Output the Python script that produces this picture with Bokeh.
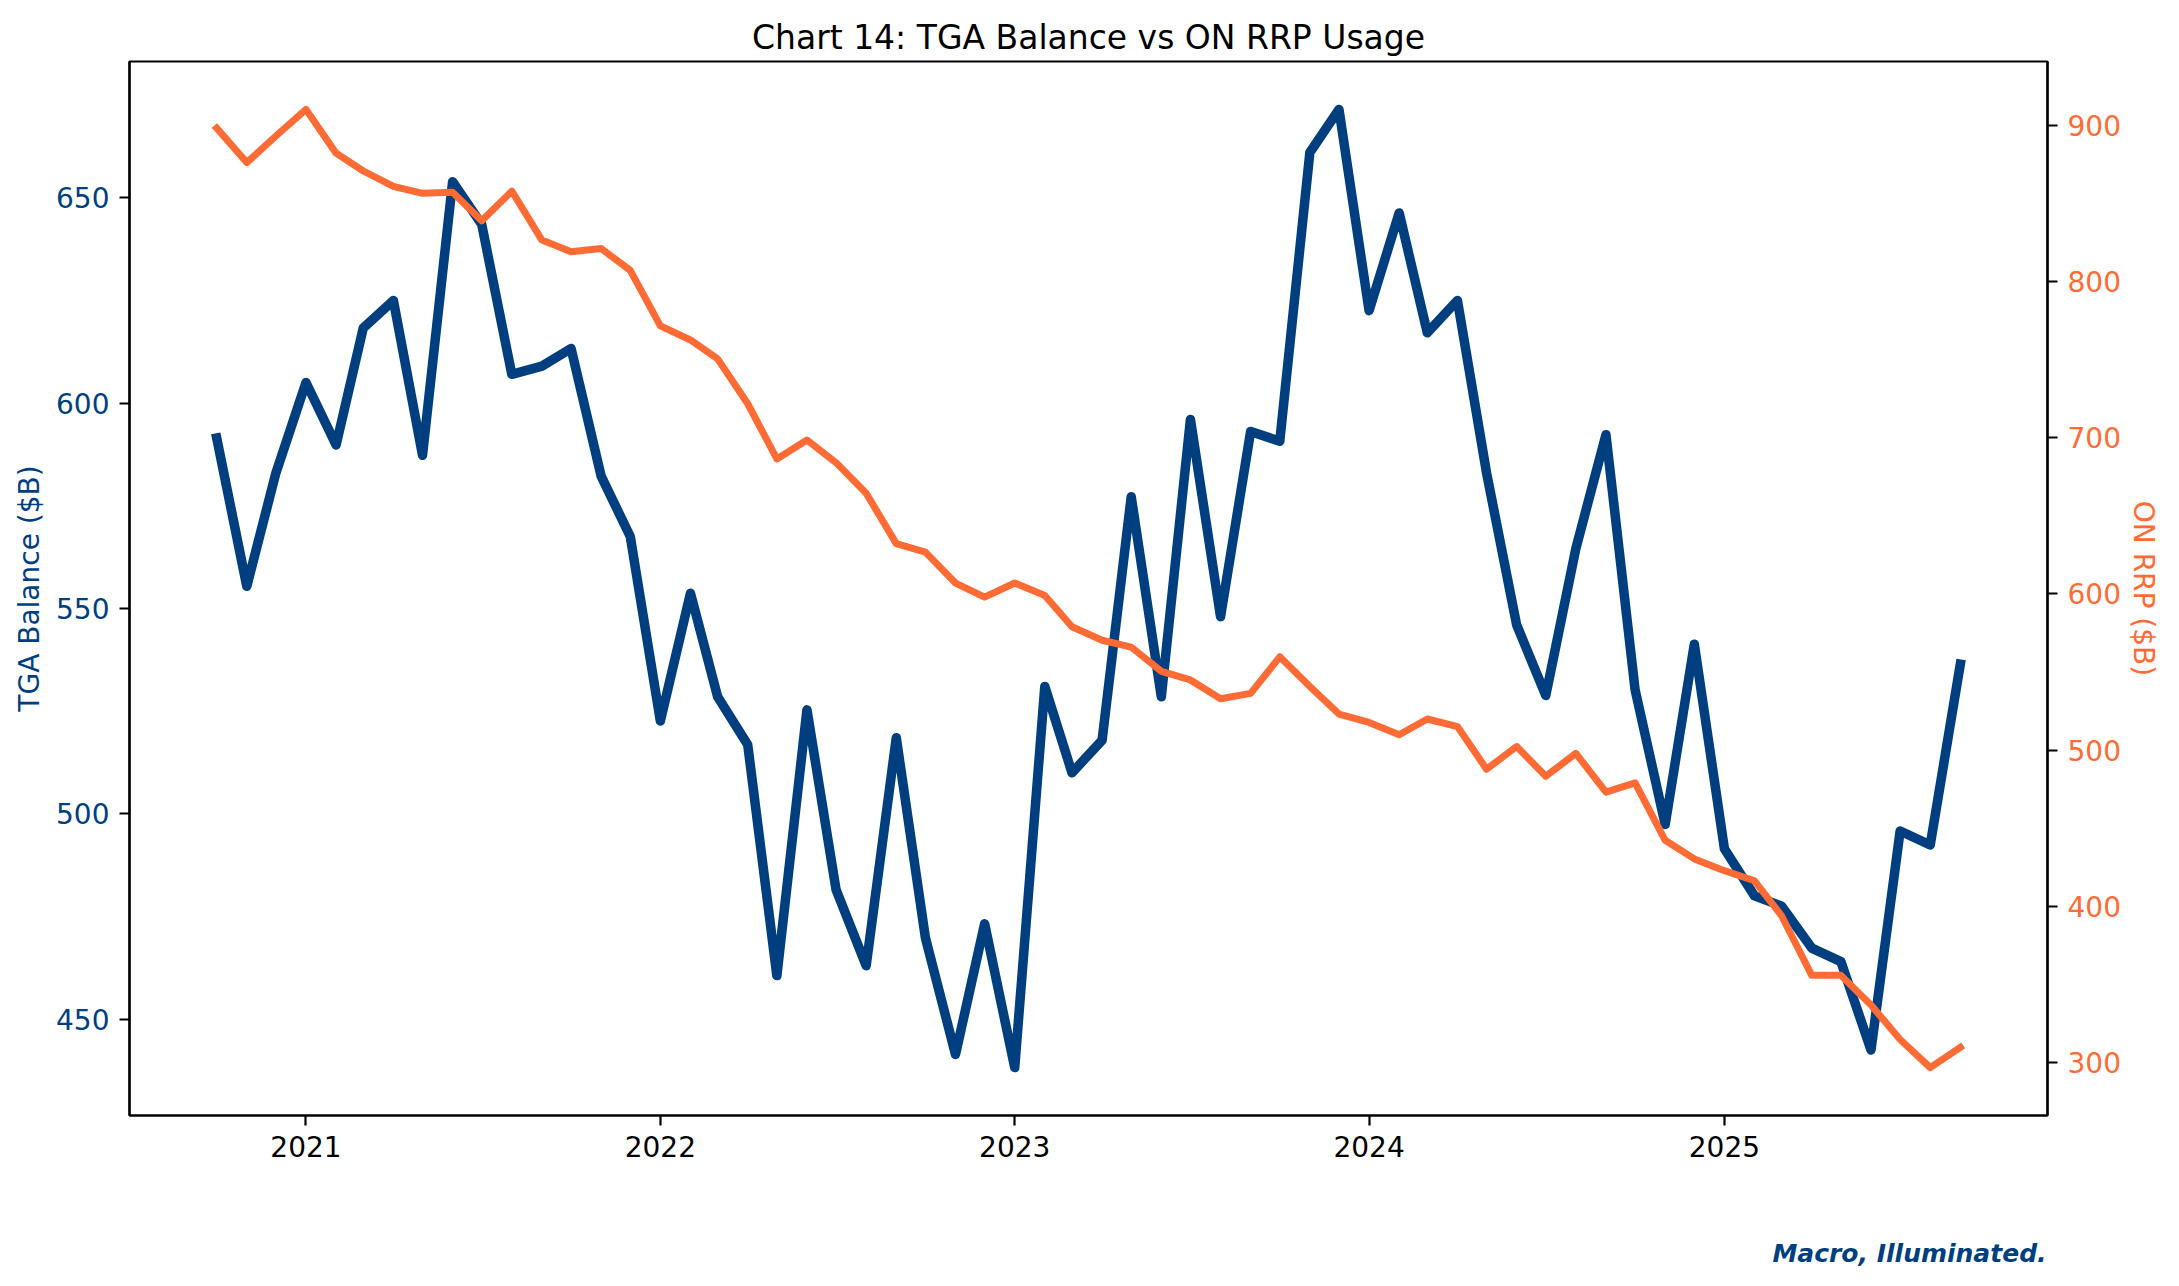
import pandas as pd
from bokeh.plotting import figure
from bokeh.layouts import column
from bokeh.models import Range1d, LinearAxis, FixedTicker, DatetimeTickFormatter, Label
from bokeh.embed import file_html
from bokeh.resources import INLINE

# ---- data ----
months = pd.date_range("2020-10-01", "2025-09-01", freq="MS")
tga_balance = [591.5, 555.4, 583, 605, 589.8, 618.3, 625, 587.3, 653.9, 643.5,
               607, 609, 613.3, 582.2, 567.5, 522.6, 553.7, 528.5, 516.8, 460.6,
               525.3, 481.5, 463, 518.5, 469.8, 441.4, 473.2, 438.2, 531, 510,
               517.9, 577.2, 528.5, 596, 548, 593.1, 590.7, 661, 671.5, 622.5,
               646.3, 617.1, 625, 583, 546, 528.8, 564.6, 592.3, 530.2, 497.4,
               541.3, 491.5, 480, 477.5, 467.3, 464, 442.5, 495.8, 492.4, 536.4]
on_rrp = [898, 876, 893, 910, 882, 870.6, 860.8, 856.3, 857, 838.7,
          857.7, 826.4, 818.9, 821, 807, 771.5, 762.5, 750.4, 721.7, 686.4,
          698.5, 684, 664.4, 632.2, 626.8, 607, 598, 607, 599, 579,
          570.4, 566, 550.5, 545, 533, 536.4, 559.8, 540.8, 523.2, 517.8,
          509.9, 520, 515.2, 487.9, 502.4, 483.4, 498, 473.2, 479.2, 442.4,
          430.5, 423, 416.5, 394, 356, 356, 337, 315, 297, 310]
x_tick_dates = ["2021-01-01", "2022-01-01", "2023-01-01", "2024-01-01", "2025-01-01"]
tga_ticks = [450, 500, 550, 600, 650]
rrp_ticks = [300, 400, 500, 600, 700, 800, 900]

BLUE = "#003f7f"
ORANGE = "#ff6b35"
FONT = "DejaVu Sans"

def padded(lo, hi, frac=0.05):
    d = (hi - lo) * frac
    return lo - d, hi + d

x0, x1 = months[0], months[-1]
dx = (x1 - x0) * 0.05
y0, y1 = padded(min(tga_balance), max(tga_balance))
r0, r1 = padded(min(on_rrp), max(on_rrp))

W = 2162
BL, BR, BT, BB = 129, 114, 61, 85
FRAME_H = 1054
H = BT + FRAME_H + BB
FOOT_H = 70

p = figure(width=W, height=H, x_axis_type="datetime",
           output_backend="svg", toolbar_location=None,
           x_range=Range1d(x0 - dx, x1 + dx), y_range=Range1d(y0, y1),
           min_border_left=BL, min_border_right=BR,
           min_border_top=BT, min_border_bottom=BB)
p.extra_y_ranges = {"rrp": Range1d(r0, r1)}

p.title.text = "Chart 14: TGA Balance vs ON RRP Usage"
p.title.align = "center"
p.title.text_font = FONT
p.title.text_font_size = "33px"
p.title.text_font_style = "normal"
p.title.text_color = "black"

p.outline_line_color = "black"
p.outline_line_width = 2.2
p.outline_line_alpha = 1.0
p.xgrid.visible = False
p.ygrid.visible = False
p.background_fill_color = "white"
p.border_fill_color = "white"

p.line(months, tga_balance, line_color=BLUE, line_width=9.5,
       line_join="round", line_cap="square")
p.line(months, on_rrp, line_color=ORANGE, line_width=7, y_range_name="rrp",
       line_join="round", line_cap="square")

rax = LinearAxis(y_range_name="rrp")
p.add_layout(rax, "right")

x_ticks_ms = [pd.Timestamp(d).value // 10**6 for d in x_tick_dates]
p.xaxis.ticker = FixedTicker(ticks=x_ticks_ms)
p.xaxis.formatter = DatetimeTickFormatter(years="%Y", months="%Y", days="%Y",
                                          hours="%Y", minutes="%Y")
p.yaxis[0].ticker = FixedTicker(ticks=tga_ticks)
rax.ticker = FixedTicker(ticks=rrp_ticks)

for ax in [p.xaxis[0], p.yaxis[0], rax]:
    ax.axis_line_color = "black"
    ax.axis_line_width = 2.2
    ax.major_tick_line_color = "black"
    ax.major_tick_line_width = 2.2
    ax.major_tick_out = 10
    ax.major_tick_in = 0
    ax.minor_tick_line_color = None
    ax.major_label_text_font = FONT
    ax.major_label_text_font_size = "28px"
    ax.major_label_standoff = 10
    ax.axis_label_text_font = FONT
    ax.axis_label_text_font_size = "28px"
    ax.axis_label_text_font_style = "normal"

p.xaxis.major_label_text_color = "black"
p.yaxis[0].axis_label = "TGA Balance ($B)"
p.yaxis[0].axis_label_text_color = BLUE
p.yaxis[0].major_label_text_color = BLUE
p.yaxis[0].axis_label_standoff = 7
rax.axis_label = "ON RRP ($B)"
rax.axis_label_text_color = ORANGE
rax.major_label_text_color = ORANGE
rax.axis_label_standoff = 3

# footer strip below the chart; its frame is aligned with the chart frame
foot = figure(width=W, height=FOOT_H, output_backend="svg", toolbar_location=None,
              x_range=Range1d(0, 1), y_range=Range1d(0, FOOT_H),
              min_border_left=0, min_border_right=0, min_border_top=0,
              min_border_bottom=0)
foot.axis.visible = False
foot.grid.visible = False
foot.outline_line_color = None
foot.background_fill_color = "white"
foot.border_fill_color = "white"
footer = Label(x=0.9995, y=FOOT_H - 53, x_units="data", y_units="data",
               text="Macro, Illuminated.", text_align="right", text_baseline="middle",
               text_font=FONT, text_font_size="25px", text_font_style="bold italic",
               text_color=BLUE)
foot.add_layout(footer)

layout = column(p, foot, spacing=0)
open("out.html", "w").write(file_html(layout, INLINE))
